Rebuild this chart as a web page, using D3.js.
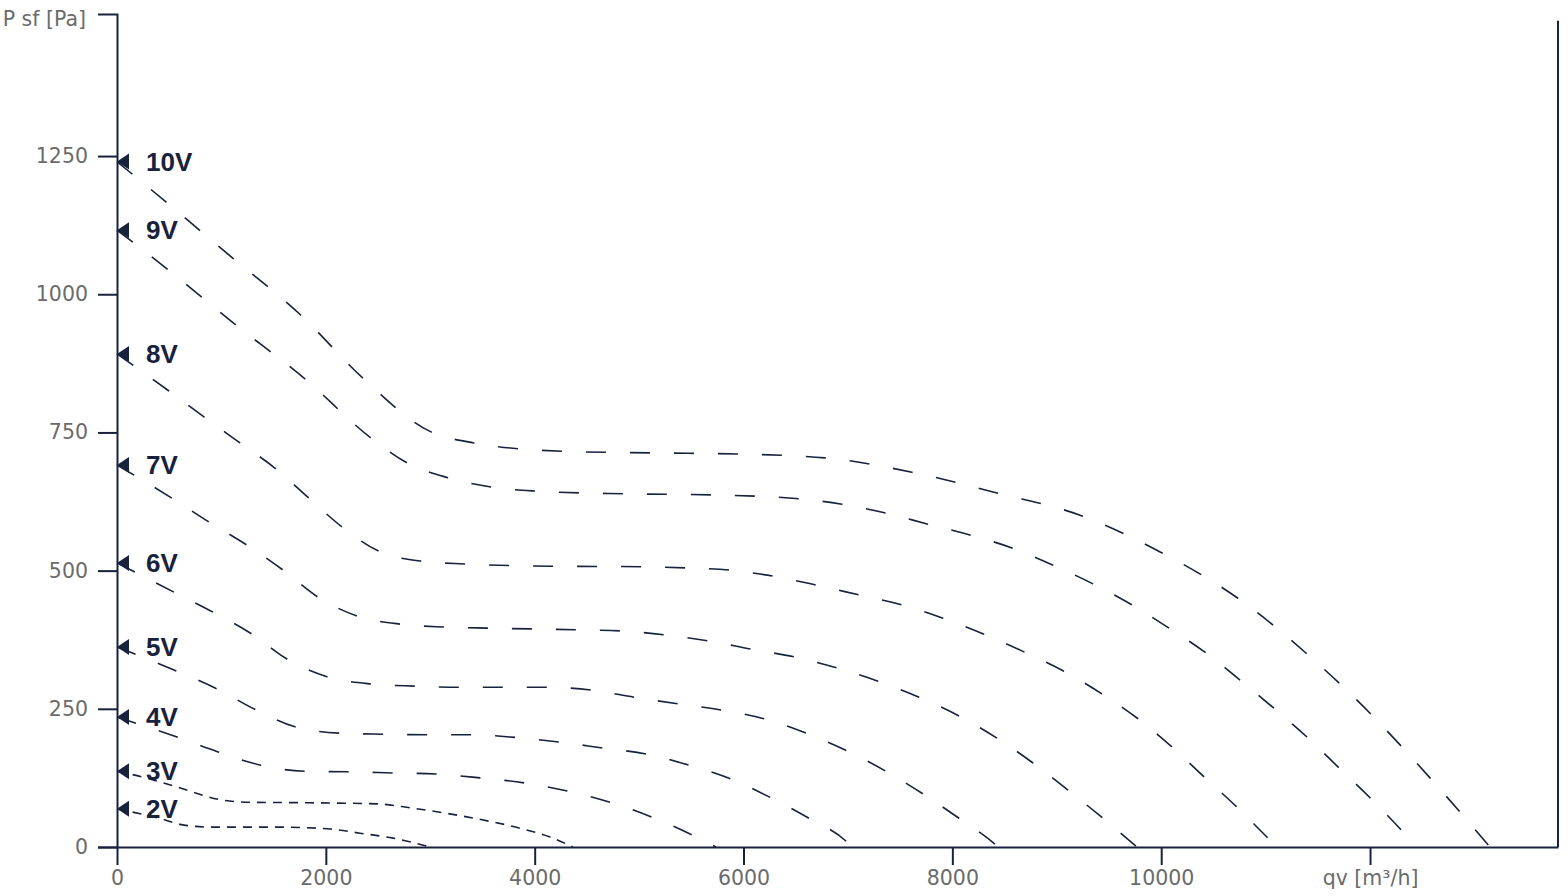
<!DOCTYPE html>
<html>
<head>
<meta charset="utf-8">
<script src="https://cdn.jsdelivr.net/npm/d3@7"></script>
<style>
  body { margin: 0; background: #fff; }
  svg { display: block; }
  .tick text { font-family: "DejaVu Sans", sans-serif; font-size: 20.5px; fill: #6b6b6b; }
  .axis path, .axis line { stroke: #18223d; stroke-width: 2px; }
  .curve { fill: none; stroke: #18223d; stroke-width: 1.6px; }
  .speed { font-family: "Liberation Sans", Arial, sans-serif; font-weight: bold; font-size: 26px; fill: #18223d; }
</style>
</head>
<body>
<svg id="chart" width="1568" height="896"></svg>
<script>
'use strict';

// tick values
var xTicks = [0, 2000, 4000, 6000, 8000, 10000, 12000];
var yTicks = [0, 250, 500, 750, 1000, 1250];
var xLabel = "qv [m³/h]";
var yLabel = "P sf [Pa]";

// fan curves, qv [m3/h] vs P sf [Pa]
var speeds = ["10V", "9V", "8V", "7V", "6V", "5V", "4V", "3V", "2V"];

var qv10 = [0, 469, 1111, 1762, 2356, 3007, 3419, 4262, 5104, 5947, 6780, 7613, 8437, 9242, 10008, 10735, 11386, 12000, 12574, 13149];
var ps10 = [1240, 1167, 1065, 962, 848, 751, 731, 716, 713, 711, 704, 678, 640, 599, 532, 450, 351, 242, 125, 0];

var qv9 = [0, 479, 1140, 1800, 2432, 2777, 3170, 3591, 4003, 4846, 5689, 6531, 6943, 7364, 7767, 8178, 8571, 8964, 9347, 9720, 10075, 10429, 10755, 11080, 11396, 11703, 12000, 12297, 12440];
var ps9 = [1116, 1046, 944, 847, 740, 695, 668, 651, 644, 639, 637, 630, 620, 604, 584, 564, 541, 510, 476, 438, 396, 351, 302, 251, 199, 143, 89, 31, 0];

var qv8 = [0, 498, 833, 1178, 1523, 1839, 2155, 2509, 2921, 3342, 4175, 5028, 5440, 5861, 6282, 6694, 7106, 7518, 7910, 8303, 8686, 9069, 9433, 9778, 10103, 10410, 10726, 11023, 11109];
var ps8 = [892, 825, 778, 731, 684, 631, 579, 535, 517, 512, 508, 507, 505, 501, 490, 474, 456, 438, 414, 385, 353, 318, 277, 232, 181, 127, 72, 16, 0];

var qv7 = [0, 527, 881, 1245, 1590, 1925, 2299, 2720, 3132, 3553, 4405, 4817, 5238, 5660, 6072, 6483, 6895, 7288, 7681, 8064, 8427, 8772, 9107, 9443, 9768];
var ps7 = [691, 631, 588, 546, 501, 452, 418, 403, 398, 396, 393, 391, 384, 373, 358, 344, 324, 300, 271, 237, 197, 152, 103, 52, 0];

var qv6 = [0, 546, 919, 1293, 1628, 2011, 2432, 2854, 3275, 3697, 4118, 4539, 4951, 5373, 5784, 6196, 6598, 6991, 7364, 7719, 8064, 8408, 8437];
var ps6 = [514, 461, 425, 385, 340, 308, 295, 291, 289, 289, 289, 284, 271, 259, 248, 232, 206, 174, 137, 96, 52, 5, 0];

var qv5 = [0, 575, 958, 1331, 1714, 2136, 2557, 2978, 3400, 3764, 4233, 4654, 5076, 5478, 5880, 6263, 6627, 6991, 7039];
var ps5 = [362, 318, 286, 248, 217, 206, 204, 203, 203, 199, 190, 179, 168, 148, 123, 89, 52, 9, 0];

var qv4 = [0, 575, 968, 1379, 1790, 2212, 2633, 3055, 3477, 3898, 4319, 4721, 5124, 5507, 5736];
var ps4 = [235, 199, 172, 148, 137, 136, 134, 132, 125, 116, 101, 81, 54, 22, 0];

var qv3 = [0, 278, 565, 1005, 1264, 1848, 2490, 2806, 3122, 3448, 3859, 4147, 4367];
var ps3 = [137, 125, 109, 85, 81, 80, 78, 71, 62, 51, 34, 18, 0];

var qv2 = [0, 402, 632, 891, 1532, 2011, 2327, 2643, 2998];
var ps2 = [69, 52, 40, 36, 36, 33, 25, 16, 0];

var qvs = [qv10, qv9, qv8, qv7, qv6, qv5, qv4, qv3, qv2];
var pss = [ps10, ps9, ps8, ps7, ps6, ps5, ps4, ps3, ps2];

var svg = d3.select("#chart");

var x = d3.scaleLinear().domain([0, 13800]).range([117, 1558]);
var y = d3.scaleLinear().domain([0, 1507]).range([847, 14]);

// axes
var xAxis = d3.axisBottom(x)
    .tickValues(xTicks)
    .tickSize(18)
    .tickSizeOuter(0)
    .tickPadding(5)
    .tickFormat(function(d) { return d === 12000 ? xLabel : d; });

svg.append("g")
    .attr("class", "axis x")
    .attr("transform", "translate(0," + y(0) + ")")
    .call(xAxis);

var yAxis = d3.axisLeft(y)
    .tickValues(yTicks)
    .tickSize(19)
    .tickSizeOuter(19)
    .tickPadding(10)
    .tickFormat(d3.format("d"));

var gy = svg.append("g")
    .attr("class", "axis y")
    .attr("transform", "translate(" + x(0) + ",0)")
    .call(yAxis);

gy.append("g")
    .attr("class", "tick")
    .append("text")
    .attr("x", -31)
    .attr("y", y(1507))
    .attr("dy", "0.6em")
    .attr("text-anchor", "end")
    .text(yLabel);

// right frame line
svg.append("line")
    .attr("x1", x(13800)).attr("x2", x(13800))
    .attr("y1", y(0)).attr("y2", y(1495))
    .style("stroke", "#18223d").style("stroke-width", 2);

// curves
var line = d3.line()
    .x(function(d) { return x(d[0]); })
    .y(function(d) { return y(d[1]); })
    .curve(d3.curveMonotoneX);

var curves = svg.append("g");

speeds.forEach(function(name, i) {
    var pts = qvs[i].map(function(q, j) { return [q, pss[i][j]]; });
    var low = name === "2V" || name === "3V";

    curves.append("path")
        .attr("class", "curve")
        .attr("d", line(pts))
        .attr("stroke-dasharray", low ? "9,7" : "20,24");

    var x0 = x(pts[0][0]);
    var y0 = y(pts[0][1]);

    curves.append("path")
        .attr("d", "M" + x0 + "," + y0 + "L" + (x0 + 12) + "," + (y0 - 8) + "L" + (x0 + 12) + "," + (y0 + 8) + "Z")
        .attr("fill", "#18223d");

    curves.append("text")
        .attr("class", "speed")
        .attr("x", 146)
        .attr("y", y0 + 9)
        .text(name);
});
</script>
</body>
</html>
